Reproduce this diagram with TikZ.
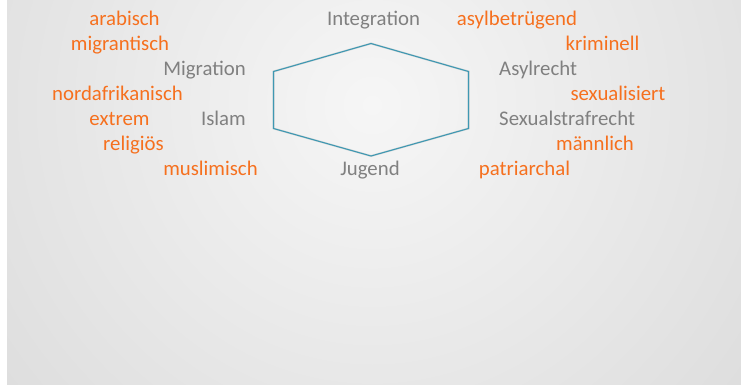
\documentclass[tikz,border=0pt]{standalone}
\usepackage{fontspec}
\setmainfont{Carlito}
\definecolor{wordorange}{RGB}{246,112,30}
\definecolor{wordgray}{RGB}{128,128,128}
\definecolor{hexline}{RGB}{62,152,178}
\definecolor{bgin}{RGB}{246,246,246}
\definecolor{bgout}{RGB}{197,197,197}
\tikzset{
  adj/.style={text=wordorange, inner sep=0pt, font=\fontsize{20.8}{24}\selectfont},
  topic/.style={text=wordgray, inner sep=0pt, font=\fontsize{20.8}{24}\selectfont},
  hexbox/.style={draw=hexline, line width=1.1pt, line join=miter},
  hexshadow/.style={draw=black, opacity=0.10, line width=2pt, line join=miter}
}
\begin{document}
\begin{tikzpicture}[x=1pt, y=-1pt]
\useasboundingbox (0,0) rectangle (741,385);
\fill[white] (0,0) rectangle (741,385);
\begin{scope}
\clip (7,0) rectangle (741,385);
\shade[inner color=bgin, outer color=bgout] (372,105) circle (940);
\end{scope}
% hexagon
\coordinate (ht) at (371,43.5);
\coordinate (hul) at (273.5,71.5);
\coordinate (hll) at (273.5,128.5);
\coordinate (hb) at (371,156);
\coordinate (hlr) at (468.5,128.5);
\coordinate (hur) at (468.5,71.5);
\begin{scope}[shift={(1,1.5)}]
\draw[hexshadow] (ht) -- (hur) -- (hlr) -- (hb) -- (hll) -- (hul) -- cycle;
\end{scope}
\draw[hexbox] (ht) -- (hur) -- (hlr) -- (hb) -- (hll) -- (hul) -- cycle;
% rows: baselines
\node[adj, anchor=base] (arab) at (124.5,26) {arabisch};
\node[adj, anchor=base] (migr) at (120,51) {migrantisch};
\node[topic, anchor=base east] (Migr) at (246,76) {Migration};
\node[adj, anchor=base] (nord) at (117.5,100.5) {nordafrikanisch};
\node[adj, anchor=base] (extr) at (119.5,125) {extrem};
\node[topic, anchor=base east] (Isl) at (246,125) {Islam};
\node[adj, anchor=base] (reli) at (133.5,150) {religiös};
\node[adj, anchor=base] (musl) at (210.5,175) {muslimisch};
\node[topic, anchor=base] (Integ) at (373.5,26) {Integration};
\node[topic, anchor=base] (Jug) at (370,175) {Jugend};
\node[adj, anchor=base] (asylb) at (517,26) {asylbetrügend};
\node[adj, anchor=base] (krim) at (602.5,51) {kriminell};
\node[topic, anchor=base west] (Asyl) at (499,76) {Asylrecht};
\node[adj, anchor=base] (sexu) at (618,100.5) {sexualisiert};
\node[topic, anchor=base west] (Sex) at (499,125) {Sexualstrafrecht};
\node[adj, anchor=base] (maen) at (595,150) {männlich};
\node[adj, anchor=base] (patr) at (524.5,175) {patriarchal};
\end{tikzpicture}
\end{document}
